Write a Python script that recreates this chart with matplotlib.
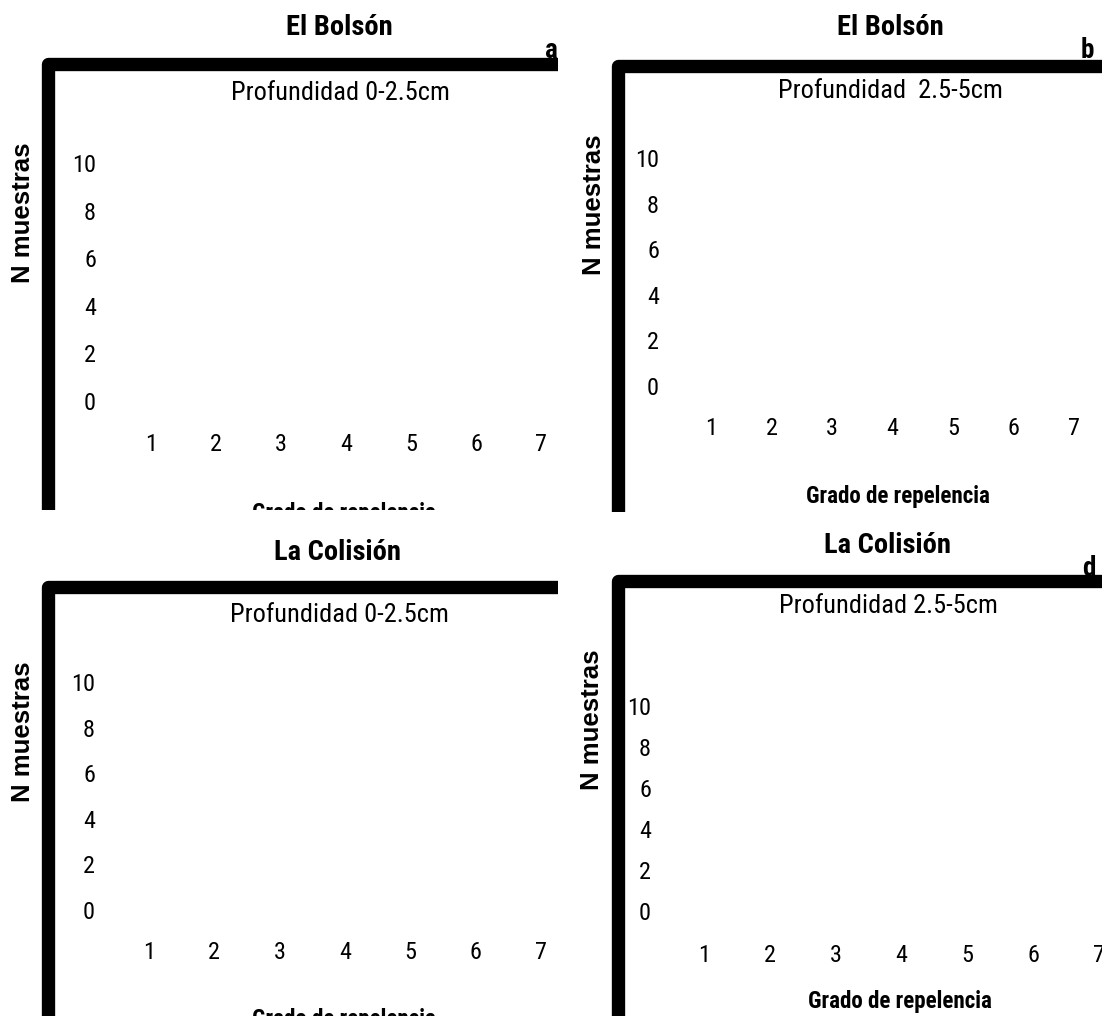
import matplotlib
matplotlib.use('Agg')
import matplotlib.pyplot as plt
from matplotlib.lines import Line2D
from matplotlib.transforms import Bbox, TransformedBbox

# ---------------- data ----------------
grado = [1, 2, 3, 4, 5, 6, 7]
y_ticks = [0, 2, 4, 6, 8, 10]
sites = ['El Bolsón', 'El Bolsón', 'La Colisión', 'La Colisión']
depths = ['Profundidad 0-2.5cm', 'Profundidad  2.5-5cm',
          'Profundidad 0-2.5cm', 'Profundidad 2.5-5cm']
panel_letters = ['a', 'b', 'c', 'd']
# no bars are visible in the reference panels
counts_a = [0, 0, 0, 0, 0, 0, 0]
counts_b = [0, 0, 0, 0, 0, 0, 0]
counts_c = [0, 0, 0, 0, 0, 0, 0]
counts_d = [0, 0, 0, 0, 0, 0, 0]
counts = [counts_a, counts_b, counts_c, counts_d]
xlabel = 'Grado de repelencia'
ylabel = 'N muestras'

# ---------------- layout (pixels, top-left origin) ----------------
W, H = 1102, 1016
NARROW = ['Roboto Condensed', 'Liberation Sans', 'DejaVu Sans']
WIDE = ['Liberation Sans', 'DejaVu Sans']

layout = [
    dict(clip=(0, 0, 558, 510), frame=(48, 64), ax=(118.5, 573.5, 163, 401),
         ypad=16.2, xpad=23, title=(339, 35), depth=(340, 100),
         letter=(551, 58), xl=(344, 520), yl=(30.5, 213)),
    dict(clip=(558, 0, 1102, 512), frame=(618, 66), ax=(680.75, 1104.25, 158, 386),
         ypad=15.7, xpad=22.5, title=(890, 35), depth=(890, 98),
         letter=(1087, 58), xl=(898, 503), yl=(601, 205)),
    dict(clip=(0, 512, 558, 1016), frame=(48, 587), ax=(116.3, 573.7, 682, 910),
         ypad=15.3, xpad=22, title=(338, 560), depth=(339, 622),
         letter=(566, 580), xl=(344, 1026), yl=(30.5, 732)),
    dict(clip=(558, 512, 1102, 1016), frame=(618, 581), ax=(671, 1131.9, 706, 911),
         ypad=14.4, xpad=23.5, title=(888, 553), depth=(888, 613),
         letter=(1089, 576), xl=(900, 1008), yl=(599, 720)),
]

fig = plt.figure(figsize=(W / 100, H / 100), dpi=100)
fig.patch.set_facecolor('white')


def fx(px):
    return px / W


def fy(py):
    return 1 - py / H


for i, L in enumerate(layout):
    cx0, cy0, cx1, cy1 = L['clip']
    clip = TransformedBbox(Bbox.from_extents(fx(cx0), fy(cy1), fx(cx1), fy(cy0)),
                           fig.transFigure)
    left, right, top, bottom = L['ax']
    ax = fig.add_axes([fx(left), fy(bottom), (right - left) / W, (bottom - top) / H])
    ax.set_xlim(0.5, 7.5)
    ax.set_ylim(0, 10)
    ax.bar(grado, counts[i], width=0.6, color='white', linewidth=0)
    ax.set_xticks(grado)
    ax.set_yticks(y_ticks)
    ax.tick_params(axis='both', length=0, labelsize=17.5)
    ax.tick_params(axis='y', pad=L['ypad'])
    ax.tick_params(axis='x', pad=L['xpad'])
    for lab in ax.get_xticklabels() + ax.get_yticklabels():
        lab.set_fontfamily(NARROW)
    for s in ax.spines.values():
        s.set_visible(False)
    ax.patch.set_visible(False)

    # panel letter (partly hidden behind the frame)
    t = fig.text(fx(L['letter'][0]), fy(L['letter'][1]), panel_letters[i],
                 ha='center', va='baseline', fontsize=19.5, fontweight='bold',
                 family=NARROW, zorder=1)
    t.set_clip_box(clip)

    # thick frame (left + top), clipped to the panel
    lx, ty = L['frame']
    frame = Line2D([fx(lx), fx(lx), fx(3000)], [fy(3000), fy(ty), fy(ty)],
                   transform=fig.transFigure, color='black', linewidth=9.6,
                   solid_joinstyle='round', solid_capstyle='butt', zorder=10)
    frame.set_clip_box(clip)
    fig.add_artist(frame)

    texts = []
    texts.append(fig.text(fx(L['title'][0]), fy(L['title'][1]), sites[i],
                          ha='center', va='baseline', fontsize=20.5,
                          fontweight='bold', family=NARROW))
    texts.append(fig.text(fx(L['depth'][0]), fy(L['depth'][1]), depths[i],
                          ha='center', va='baseline', fontsize=19, family=NARROW))
    texts.append(fig.text(fx(L['xl'][0]), fy(L['xl'][1]), xlabel,
                          ha='center', va='baseline', fontsize=16.6,
                          fontweight='bold', family=NARROW))
    texts.append(fig.text(fx(L['yl'][0]), fy(L['yl'][1]), ylabel,
                          ha='center', va='baseline', rotation=90,
                          rotation_mode='anchor', fontsize=18.5,
                          fontweight='bold', family=WIDE))
    for t in texts:
        t.set_clip_box(clip)

fig.savefig('out.png', dpi=100, facecolor='white')
